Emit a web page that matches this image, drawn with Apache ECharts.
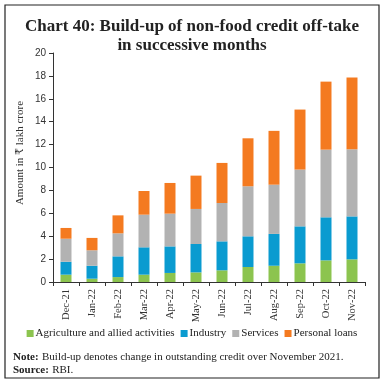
<!DOCTYPE html>
<html><head><meta charset="utf-8">
<script src="https://cdn.jsdelivr.net/npm/echarts@6/dist/echarts.min.js"></script>
<style>html,body{margin:0;padding:0;background:#fff}#c{width:384px;height:385px}</style>
</head><body><div id="c"></div>
<script>
const categories = ['Dec-21','Jan-22','Feb-22','Mar-22','Apr-22','May-22','Jun-22','Jul-22','Aug-22','Sep-22','Oct-22','Nov-22'];
const agriculture = [0.64,0.29,0.43,0.64,0.79,0.84,1.02,1.31,1.42,1.63,1.89,1.98];
const industry = [1.13,1.13,1.81,2.39,2.32,2.48,2.53,2.68,2.78,3.23,3.76,3.75];
const services = [2.01,1.35,2.01,2.85,2.86,3.06,3.35,4.37,4.30,4.96,5.91,5.86];
const personalLoans = [0.94,1.08,1.57,2.07,2.68,2.91,3.50,4.19,4.70,5.24,5.94,6.27];
const seriesNames = ['Agriculture and allied activities','Industry','Services','Personal loans'];
const yTicks = [0,2,4,6,8,10,12,14,16,18,20];

const colors = ['#8cc44f','#0a9bd0','#b2b2b2','#f47a20'];
const serif = '"Liberation Serif","DejaVu Serif",serif';
const chart = echarts.init(document.getElementById('c'), null, {renderer:'canvas'});
const dataSets = [agriculture, industry, services, personalLoans];
chart.setOption({
  animation:false,
  backgroundColor:'#fff',
  color: colors,
  title:{
    text:'Chart 40: Build-up of non-food credit off-take\nin successive months',
    left:'center', top:12,
    textStyle:{fontFamily:serif, fontWeight:'bold', fontSize:17, lineHeight:19, color:'#222'}
  },
  legend:{
    data: seriesNames,
    bottom:41, left:'center',
    itemWidth:7, itemHeight:7, itemGap:6,
    icon:'rect',
    textStyle:{fontFamily:serif, fontSize:11, color:'#222', padding:[0,0,0,-3]}
  },
  grid:{left:53, right:19, top:53, bottom:103},
  xAxis:{
    type:'category', data: categories,
    axisLine:{lineStyle:{color:'#333'}},
    axisTick:{show:true, length:4, lineStyle:{color:'#333'}},
    axisLabel:{rotate:90, fontFamily:serif, fontSize:10.5, color:'#333', margin:7}
  },
  yAxis:{
    type:'value', min:yTicks[0], max:yTicks[yTicks.length-1], interval:2,
    axisLine:{show:true, lineStyle:{color:'#333'}},
    axisTick:{show:true, length:4, lineStyle:{color:'#333'}},
    splitLine:{show:false},
    axisLabel:{fontFamily:'"Liberation Sans",sans-serif', fontSize:10, color:'#333', margin:7}
  },
  series: dataSets.map((d,i)=>({
    name: seriesNames[i], type:'bar', stack:'total', data:d, barWidth:11,
    itemStyle:{color:colors[i]}
  })),
  graphic:[
    {type:'rect', shape:{x:5,y:5,width:374,height:373}, style:{fill:'none', stroke:'#222', lineWidth:1.2}, silent:true},
    {type:'text', x:20, y:153, rotation:Math.PI/2, style:{text:'Amount in ₹ lakh crore', font:'11px '+serif, fill:'#333', textAlign:'center', textVerticalAlign:'middle'}},
    {type:'text', left:13, top:351, style:{rich:{b:{fontFamily:serif,fontWeight:'bold',fontSize:11,fill:'#222'}, n:{fontFamily:serif,fontSize:11,fill:'#222'}}, text:'{b|Note:} {n|Build-up denotes change in outstanding credit over November 2021.}'}},
    {type:'text', left:13, top:364, style:{rich:{b:{fontFamily:serif,fontWeight:'bold',fontSize:11,fill:'#222'}, n:{fontFamily:serif,fontSize:11,fill:'#222'}}, text:'{b|Source:} {n|RBI.}'}}
  ]
});
</script></body></html>
